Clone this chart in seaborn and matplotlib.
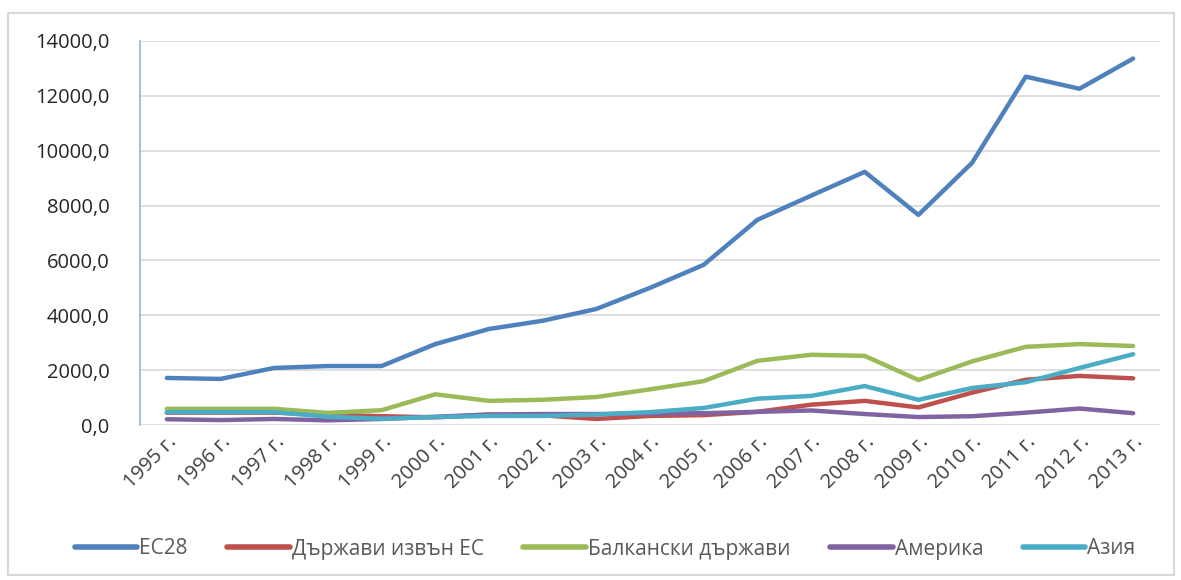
import matplotlib
matplotlib.use('Agg')
import matplotlib.pyplot as plt
import matplotlib.ticker as mticker
from matplotlib.patches import Rectangle
import pandas as pd
import seaborn as sns

sns.set_style('white')
plt.rcParams['font.family'] = ['Open Sans', 'DejaVu Sans']

years = ['1995 г.', '1996 г.', '1997 г.', '1998 г.', '1999 г.', '2000 г.', '2001 г.',
         '2002 г.', '2003 г.', '2004 г.', '2005 г.', '2006 г.', '2007 г.', '2008 г.',
         '2009 г.', '2010 г.', '2011 г.', '2012 г.', '2013 г.']

ec28 = [1715, 1680, 2080, 2150, 2150, 2950, 3500, 3800, 4230, 5000,
        5840, 7480, 8360, 9230, 7660, 9560, 12700, 12260, 13360]
non_eu = [450, 450, 450, 380, 320, 280, 380, 350, 220, 330,
          360, 480, 740, 880, 640, 1180, 1650, 1790, 1700]
balkan = [590, 590, 590, 440, 540, 1120, 880, 920, 1020, 1300,
          1600, 2340, 2560, 2520, 1640, 2320, 2850, 2950, 2880]
america = [210, 180, 220, 170, 220, 300, 380, 400, 400, 420,
           430, 480, 530, 400, 290, 320, 450, 600, 430]
asia = [470, 470, 470, 300, 230, 290, 330, 330, 380, 470,
        620, 960, 1060, 1420, 920, 1350, 1560, 2080, 2580]

series = {
    'ЕС28': ec28,
    'Държави извън ЕС': non_eu,
    'Балкански държави': balkan,
    'Америка': america,
    'Азия': asia,
}
colors = ['#4F81BD', '#C0504D', '#9BBB59', '#8064A2', '#4BACC6']

rows = []
for name, vals in series.items():
    for y, v in zip(years, vals):
        rows.append({'year': y, 'value': v, 'series': name})
df = pd.DataFrame(rows)

fig = plt.figure(figsize=(11.81, 5.80), dpi=100)
ax = fig.add_axes([140 / 1181, 1 - 425 / 580, 1020 / 1181, 384 / 580])

sns.lineplot(data=df, x='year', y='value', hue='series', palette=colors,
             sort=False, linewidth=3.2, ax=ax, legend=True)

ax.set_xlim(-0.5, len(years) - 0.5)
ax.set_ylim(0, 14000)
ax.yaxis.set_major_locator(mticker.MultipleLocator(2000))
ax.yaxis.set_major_formatter(mticker.FuncFormatter(lambda v, p: f'{v:.1f}'.replace('.', ',')))
ax.grid(axis='y', color='#D9D9D9', linewidth=1.2)
ax.set_axisbelow(True)
ax.set_xlabel('')
ax.set_ylabel('')

for s in ['top', 'right', 'bottom']:
    ax.spines[s].set_visible(False)
ax.spines['left'].set_color('#8EB4E3')
ax.spines['left'].set_linewidth(1.2)

ax.tick_params(axis='y', length=0, pad=22, labelsize=14.5, labelcolor='#262626')
ax.tick_params(axis='x', length=0, pad=5, labelsize=14.5, labelcolor='#404040')
plt.setp(ax.get_xticklabels(), rotation=45, ha='right', rotation_mode='anchor')

handles, labels = ax.get_legend_handles_labels()
ax.get_legend().remove()
leg = fig.legend(handles, labels, loc='center', bbox_to_anchor=(605 / 1181, 1 - 549 / 580),
                 ncol=5, frameon=False, fontsize=15, handlelength=3.0,
                 handletextpad=0.1, columnspacing=1.9, labelcolor='#595959')
for line in leg.get_lines():
    line.set_linewidth(4)

fig.patches.append(Rectangle((8 / 1181, 5 / 580), 1166 / 1181, 562 / 580,
                             transform=fig.transFigure, fill=False,
                             edgecolor='#D9D9D9', linewidth=1.5))

fig.savefig('out.png', dpi=100)
